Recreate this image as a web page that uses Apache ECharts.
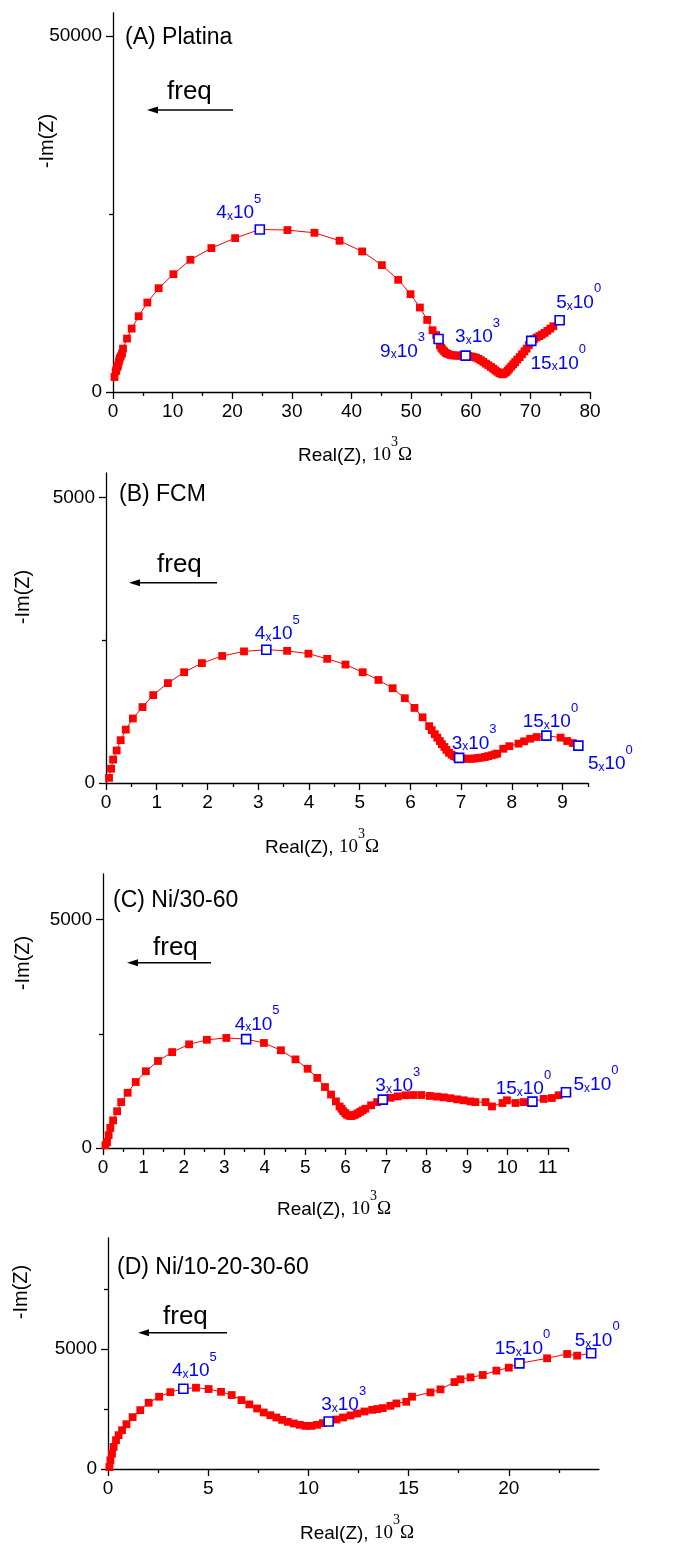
<!DOCTYPE html>
<html>
<head>
<meta charset="utf-8">
<title>Impedance spectra</title>
<script src="https://cdn.jsdelivr.net/npm/echarts@6.0.0/dist/echarts.min.js"></script>
<style>
html, body { margin: 0; padding: 0; background: #fff; }
#main { width: 678px; height: 1544px; }
</style>
</head>
<body>
<div id="main"></div>
<script>
// (A) Platina : Real(Z) in 10^3 ohm, -Im(Z) in ohm
var pt_points = [[0.25,2100],[0.45,2900],[0.56,3050],[0.7,3500],[0.84,3750],[1.0,4300],[1.12,4690],[1.3,5000],[1.51,5390],[1.68,6090],[2.35,7500],[3.13,8900],[4.31,10640],[5.76,12560],[7.66,14570],[10.13,16540],[12.98,18560],[16.5,20200],[20.48,21600],[24.62,22820],[29.26,22730],[33.79,22350],[37.99,21230],[41.79,19730],[45.09,17810],[47.83,15750],[49.9,13730],[51.47,11860],[52.7,10120],[53.59,8670],[54.2,8000],[54.6,7450],[54.83,6560],[55.05,6200],[55.27,5950],[55.55,5700],[55.83,5480],[56.2,5330],[56.62,5200],[57.0,5140],[57.45,5110],[57.9,5110],[58.29,5110],[58.7,5110],[59.13,5110],[59.55,5070],[59.97,5010],[60.4,4920],[60.87,4830],[61.3,4650],[61.71,4450],[62.1,4230],[62.55,3980],[62.95,3750],[63.38,3520],[63.75,3280],[64.11,3050],[64.45,2850],[64.78,2670],[65.05,2560],[65.34,2480],[65.6,2600],[65.9,2770],[66.2,3000],[66.46,3280],[66.8,3580],[67.13,3890],[67.45,4200],[67.8,4550],[68.2,4900],[68.59,5300],[69.0,5700],[69.37,6090],[69.75,6600],[70.15,7170],[70.6,7400],[71.05,7640],[71.5,7850],[71.94,8060],[72.4,8300],[72.84,8580],[73.35,8900],[73.85,9230],[74.91,10080]];
var pt_marks = [[24.62,22820],[54.6,7450],[59.13,5110],[70.15,7170],[74.91,10080]];
var pt_freq = [['4','5'],['9','3'],['3','3'],['15','0'],['5','0']];
var pt_x_major = [0,10,20,30,40,50,60,70,80];
var pt_x_minor = [5,15,25,35,45,55,65,75];
var pt_y_major = [0,50000];
var pt_y_minor = [25000];

// (B) FCM
var fcm_points = [[0.06,90],[0.1,250],[0.14,410],[0.21,570],[0.29,750],[0.39,935],[0.53,1130],[0.72,1330],[0.93,1540],[1.22,1750],[1.54,1940],[1.89,2100],[2.29,2225],[2.72,2305],[3.16,2335],[3.57,2315],[3.99,2265],[4.36,2175],[4.72,2075],[5.06,1940],[5.37,1805],[5.65,1660],[5.89,1485],[6.08,1315],[6.24,1150],[6.37,995],[6.42,925],[6.48,855],[6.53,795],[6.58,735],[6.62,680],[6.67,630],[6.71,580],[6.76,530],[6.81,495],[6.86,470],[6.91,450],[6.96,440],[7.02,430],[7.08,425],[7.14,425],[7.21,425],[7.27,430],[7.34,440],[7.4,445],[7.47,455],[7.53,470],[7.6,485],[7.66,500],[7.71,515],[7.83,600],[7.95,645],[8.13,690],[8.24,730],[8.36,775],[8.49,805],[8.68,830],[8.96,795],[9.09,735],[9.2,700],[9.31,655]];
var fcm_marks = [[3.16,2335],[6.96,440],[8.68,830],[9.31,655]];
var fcm_freq = [['4','5'],['3','3'],['15','0'],['5','0']];
var fcm_x_major = [0,1,2,3,4,5,6,7,8,9];
var fcm_x_minor = [0.5,1.5,2.5,3.5,4.5,5.5,6.5,7.5,8.5,9.5];
var fcm_y_major = [0,5000];
var fcm_y_minor = [2500];

// (C) Ni/30-60
var ni_points = [[0.06,60],[0.1,130],[0.14,280],[0.18,440],[0.25,605],[0.35,805],[0.45,1005],[0.61,1210],[0.81,1445],[1.06,1680],[1.36,1905],[1.71,2100],[2.13,2270],[2.57,2370],[3.05,2410],[3.54,2385],[3.98,2300],[4.4,2140],[4.76,1940],[5.06,1735],[5.3,1535],[5.49,1335],[5.64,1170],[5.76,1020],[5.85,910],[5.9,860],[5.94,805],[5.99,765],[6.03,730],[6.08,710],[6.13,700],[6.18,710],[6.24,730],[6.3,760],[6.36,790],[6.42,825],[6.49,860],[6.63,935],[6.78,1005],[6.92,1060],[7.11,1100],[7.29,1130],[7.48,1155],[7.67,1160],[7.87,1160],[8.08,1140],[8.26,1125],[8.43,1110],[8.59,1090],[8.76,1065],[8.92,1045],[9.09,1020],[9.21,1005],[9.46,1005],[9.62,910],[9.88,985],[9.99,1045],[10.2,985],[10.4,1005],[10.62,1015],[10.9,1075],[11.1,1095],[11.27,1155],[11.45,1220]];
var ni_marks = [[3.54,2385],[6.92,1060],[10.62,1015],[11.45,1220]];
var ni_freq = [['4','5'],['3','3'],['15','0'],['5','0']];
var ni_x_major = [0,1,2,3,4,5,6,7,8,9,10,11];
var ni_x_minor = [0.5,1.5,2.5,3.5,4.5,5.5,6.5,7.5,8.5,9.5,10.5,11.5];
var ni_y_major = [0,5000];
var ni_y_minor = [2500];

// (D) Ni/10-20-30-60
var nim_points = [[0.07,80],[0.12,360],[0.2,640],[0.28,920],[0.4,1200],[0.53,1410],[0.7,1615],[0.92,1865],[1.23,2160],[1.61,2450],[2.03,2760],[2.55,3010],[3.11,3200],[3.76,3345],[4.39,3385],[5.02,3330],[5.64,3215],[6.17,3080],[6.66,2870],[7.05,2690],[7.44,2520],[7.77,2355],[8.1,2240],[8.4,2145],[8.69,2045],[8.97,1965],[9.27,1895],[9.57,1840],[9.85,1795],[10.15,1795],[10.43,1840],[10.72,1910],[11.01,1980],[11.4,2060],[11.73,2145],[12.1,2230],[12.43,2310],[12.8,2395],[13.18,2465],[13.43,2495],[13.71,2535],[14.09,2630],[14.39,2730],[14.88,2800],[15.17,3010],[16.09,3190],[16.59,3315],[17.29,3620],[17.59,3735],[18.09,3815],[18.7,3915],[19.38,4095],[20.0,4220],[20.53,4400],[21.91,4610],[22.91,4790],[23.41,4720],[24.11,4820]];
var nim_marks = [[3.76,3345],[11.01,1980],[20.53,4400],[24.11,4820]];
var nim_freq = [['4','5'],['3','3'],['15','0'],['5','0']];
var nim_x_major = [0,5,10,15,20];
var nim_x_minor = [2.5,7.5,12.5,17.5,22.5];
var nim_y_major = [0,5000];
var nim_y_minor = [2500,7500];

var SANS = 'Liberation Sans';
var SERIF = 'Liberation Serif';

var nyquist = {
	/**
	 * 初始化
	 */
	init : function(){
		var panels = [
			{ name:'(A) Platina', points:pt_points, marks:pt_marks, freq:pt_freq,
			  xmax:80, ymax:53200, xMajor:pt_x_major, xMinor:pt_x_minor, yMajor:pt_y_major, yMinor:pt_y_minor,
			  grid:{left:113, top:13, width:477, height:379},
			  offsets:[[-21,-22],[-36,7],[12,-24],[27,17],[19,-23]],
			  label:[125,37.5], freqPos:[167,92], arrow:[147,233,110], ytitle:[47,141], xtitle:[355,450] },
			{ name:'(B) FCM', points:fcm_points, marks:fcm_marks, freq:fcm_freq,
			  xmax:9.5, ymax:5430, xMajor:fcm_x_major, xMinor:fcm_x_minor, yMajor:fcm_y_major, yMinor:fcm_y_minor,
			  grid:{left:106, top:473, width:482, height:310},
			  offsets:[[11,-21],[15,-20],[4,-19],[32,13]],
			  label:[119,495], freqPos:[157,565], arrow:[129,217,582.7], ytitle:[23,597], xtitle:[322,842] },
			{ name:'(C) Ni/30-60', points:ni_points, marks:ni_marks, freq:ni_freq,
			  xmax:11.5, ymax:6000, xMajor:ni_x_major, xMinor:ni_x_minor, yMajor:ni_y_major, yMinor:ni_y_minor,
			  grid:{left:103, top:874, width:465, height:274},
			  offsets:[[11,-20],[15,-19],[-9,-18],[30,-13]],
			  label:[113,901], freqPos:[153,948], arrow:[127,211,962.7], ytitle:[23,963], xtitle:[334,1204] },
			{ name:'(D) Ni/10-20-30-60', points:nim_points, marks:nim_marks, freq:nim_freq,
			  xmax:24.5, ymax:9620, xMajor:nim_x_major, xMinor:nim_x_minor, yMajor:nim_y_major, yMinor:nim_y_minor,
			  grid:{left:108, top:1238, width:491, height:231},
			  offsets:[[11,-23],[15,-22],[3,-20],[6,-18]],
			  label:[117,1267.5], freqPos:[163,1317], arrow:[138,227,1332.7], ytitle:[21,1292], xtitle:[357,1528] }
		];
		var option = { animation:false, backgroundColor:'#fff', grid:[], xAxis:[], yAxis:[], series:[], graphic:[] };
		panels.forEach(function(p, i){
			nyquist.build_panel(option, p, i);
		});
		var myChart = echarts.init(document.getElementById('main'));
		myChart.setOption(option);
	},

	/**
	 * 刻度样式
	 */
	axis_pair : function(type, gi, max, major, minor, labels){
		var line = { color:'#000', width:1.3 };
		var main = {
			type:'value', gridIndex:gi, min:0, max:max,
			axisLine:{ show:true, onZero:false, lineStyle:line },
			axisTick:{ show:true, inside:false, length:7, customValues:major, lineStyle:line },
			axisLabel:{ show:true, customValues:labels, margin:type == 'x' ? 10 : 11,
				fontFamily:SANS, fontSize:19, color:'#000',
				formatter:function(v){ return String(v); } },
			splitLine:{ show:false }
		};
		var sub = {
			type:'value', gridIndex:gi, min:0, max:max,
			axisLine:{ show:false, onZero:false },
			axisTick:{ show:true, inside:false, length:4, customValues:minor, lineStyle:line },
			axisLabel:{ show:false },
			splitLine:{ show:false }
		};
		if(type == 'x'){ main.position = 'bottom'; sub.position = 'bottom'; }
		else { main.position = 'left'; sub.position = 'left'; }
		return [main, sub];
	},

	/**
	 * 单个面板
	 */
	build_panel : function(option, p, i){
		option.grid.push({ left:p.grid.left, top:p.grid.top, width:p.grid.width, height:p.grid.height,
			outerBoundsMode:'none', containLabel:false });
		var xs = nyquist.axis_pair('x', i, p.xmax, p.xMajor, p.xMinor, p.xMajor);
		var ys = nyquist.axis_pair('y', i, p.ymax, p.yMajor, p.yMinor, p.yMajor);
		var xi = option.xAxis.length, yi = option.yAxis.length;
		option.xAxis.push(xs[0], xs[1]);
		option.yAxis.push(ys[0], ys[1]);

		option.series.push({
			type:'line', xAxisIndex:xi, yAxisIndex:yi,
			data:p.points, symbol:'rect', symbolSize:7.8, showSymbol:true, showAllSymbol:true,
			itemStyle:{ color:'#ff0000', opacity:1 },
			lineStyle:{ color:'#ff0000', width:1 },
			z:2, silent:true
		});

		var freq = p.freq;
		option.series.push({
			type:'scatter', xAxisIndex:xi, yAxisIndex:yi,
			data:p.marks.map(function(v, k){
				return { value:v, label:{ offset:p.offsets[k] } };
			}),
			symbol:'rect', symbolSize:9,
			itemStyle:{ color:'#ffffff', borderColor:'#0000ff', borderWidth:1.6, opacity:1 },
			label:{
				show:true, position:'inside', align:'center', verticalAlign:'middle',
				formatter:function(params){
					var f = freq[params.dataIndex];
					return '{m|' + f[0] + '}{x|x}{m|10}{e|' + f[1] + '}';
				},
				rich:{
					m:{ fontFamily:SANS, fontSize:19, color:'#0000ff', lineHeight:30, verticalAlign:'bottom' },
					x:{ fontFamily:SANS, fontSize:12, color:'#0000ff', lineHeight:30, verticalAlign:'bottom' },
					e:{ fontFamily:SANS, fontSize:13, color:'#0000ff', lineHeight:15, verticalAlign:'top' }
				}
			},
			z:3, silent:true
		});

		// 面板标题, freq 箭头, 坐标轴标题
		option.graphic.push(
			{ type:'text', x:p.label[0], y:p.label[1],
			  style:{ text:p.name, font:'23px "' + SANS + '"', fill:'#000', align:'left', verticalAlign:'middle' } },
			{ type:'text', x:p.freqPos[0], y:p.freqPos[1],
			  style:{ text:'freq', font:'26px "' + SANS + '"', fill:'#000', align:'left', verticalAlign:'middle' } },
			{ type:'line', shape:{ x1:p.arrow[1], y1:p.arrow[2], x2:p.arrow[0] + 6, y2:p.arrow[2] },
			  style:{ stroke:'#000', lineWidth:1.5 } },
			{ type:'polygon', shape:{ points:[[p.arrow[0], p.arrow[2]], [p.arrow[0] + 11, p.arrow[2] - 3.5], [p.arrow[0] + 11, p.arrow[2] + 3.5]] },
			  style:{ fill:'#000' } },
			{ type:'text', x:p.ytitle[0], y:p.ytitle[1], rotation:Math.PI / 2,
			  style:{ text:'-Im(Z)', font:'20px "' + SANS + '"', fill:'#000', align:'center', verticalAlign:'middle' } },
			{ type:'text', x:p.xtitle[0], y:p.xtitle[1],
			  style:{
				text:'{a|Real(Z), }{b|10}{c|3}{b|\u03a9}', align:'center', verticalAlign:'middle',
				rich:{
					a:{ fontFamily:SANS, fontSize:19, fill:'#000', lineHeight:30, verticalAlign:'bottom' },
					b:{ fontFamily:SERIF, fontSize:19, fill:'#000', lineHeight:30, verticalAlign:'bottom' },
					c:{ fontFamily:SERIF, fontSize:14, fill:'#000', lineHeight:17, verticalAlign:'top' }
				}
			  } }
		);
	}
};

nyquist.init();
</script>
</body>
</html>
